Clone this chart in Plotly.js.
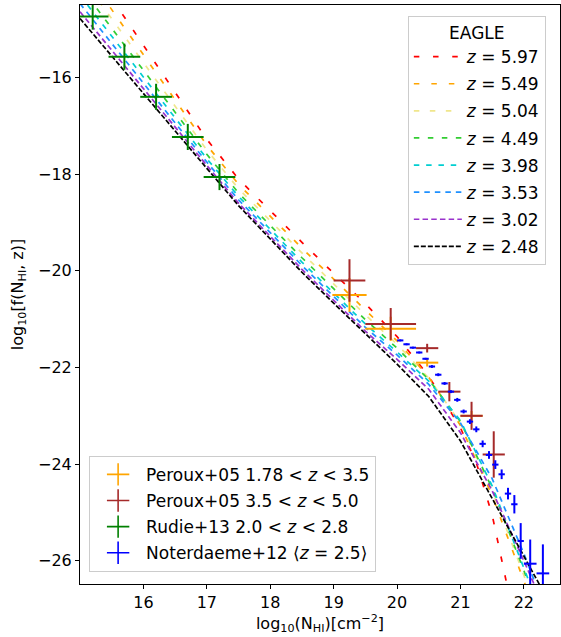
<!DOCTYPE html>
<html><head><meta charset="utf-8">
<script src="https://cdn.plot.ly/plotly-3.0.1.min.js"></script>
<style>html,body{margin:0;padding:0;background:#fff}#chart{width:561px;height:637px}</style>
</head><body><div id="chart"></div>
<script>
// ---- EAGLE simulation curves (log10 N_HI grid and log10 f) ----
const gridX = [15.0,15.5,16.0,16.5,17.0,17.5,18.0,18.5,19.0,19.5,20.0,20.5,21.0,21.5,22.0,22.25];
const redX  = [15.5,16.0,16.5,17.0,17.5,18.0,18.5,19.0,19.5,20.0,20.5,21.0,21.25,21.5,21.75];
const z597 = [-14.36,-15.34,-16.32,-17.28,-18.10,-18.76,-19.41,-20.05,-20.68,-21.36,-22.18,-23.25,-23.97,-25.05,-26.6];
const z549 = [-13.66,-14.60,-15.54,-16.48,-17.40,-18.21,-18.88,-19.53,-20.17,-20.81,-21.45,-22.20,-23.20,-24.65,-26.40,-27.30];
const z504 = [-13.88,-14.79,-15.70,-16.60,-17.50,-18.30,-18.97,-19.63,-20.27,-20.91,-21.52,-22.22,-23.15,-24.55,-26.30,-27.20];
const z449 = [-14.11,-14.98,-15.85,-16.73,-17.59,-18.39,-19.06,-19.73,-20.37,-21.01,-21.60,-22.25,-23.12,-24.50,-26.20,-27.10];
const z398 = [-14.30,-15.15,-15.99,-16.84,-17.68,-18.46,-19.14,-19.82,-20.46,-21.10,-21.68,-22.28,-23.10,-24.45,-26.15,-27.00];
const z353 = [-14.47,-15.30,-16.11,-16.94,-17.75,-18.53,-19.21,-19.89,-20.53,-21.17,-21.74,-22.35,-23.15,-24.30,-25.85,-26.70];
const z302 = [-14.64,-15.44,-16.23,-17.03,-17.82,-18.60,-19.28,-19.97,-20.61,-21.25,-21.83,-22.45,-23.35,-24.55,-26.00,-26.75];
const z248 = [-14.78,-15.56,-16.33,-17.11,-17.88,-18.65,-19.34,-20.03,-20.67,-21.31,-21.93,-22.60,-23.52,-24.71,-25.90,-26.50];
const eagleLabels = ['5.97','5.49','5.04','4.49','3.98','3.53','3.02','2.48'];

// ---- Observations ----
const perLowX = [19.25,19.9,20.475,21.175];
const perLowY = [-20.5,-21.2,-21.9,-23.0];
const perLowXerr = [0.27,0.4,0.175,0.175];
const perLowYerr = [0.35,0.25,0.08,0.1];

const perHighX = [19.25,19.9,20.475,20.825,21.175,21.525];
const perHighY = [-20.2,-21.1,-21.6,-22.5,-23.0,-23.8];
const perHighXerr = [0.25,0.4,0.175,0.175,0.175,0.175];
const perHighYerr = [0.44,0.33,0.09,0.2,0.29,0.48];

const rudieX = [15.2,15.7,16.2,16.7,17.2];
const rudieY = [-14.74,-15.57,-16.40,-17.23,-18.06];
const rudieXerr = [0.25,0.25,0.25,0.25,0.25];
const rudieYerr = [0.27,0.27,0.27,0.27,0.27];

const notX = [20.05,20.15,20.25,20.35,20.45,20.55,20.65,20.75,20.85,20.95,21.05,21.15,21.25,21.35,21.45,21.55,21.65,21.75,21.85,21.95,22.1,22.3];
const notY = [-21.44,-21.52,-21.59,-21.69,-21.82,-21.98,-22.15,-22.33,-22.50,-22.67,-22.91,-23.12,-23.28,-23.58,-23.81,-24.01,-24.21,-24.61,-24.83,-25.59,-26.06,-26.26];
const notXerr = [0.05,0.05,0.05,0.05,0.05,0.05,0.05,0.05,0.05,0.05,0.05,0.05,0.05,0.05,0.05,0.05,0.05,0.05,0.05,0.05,0.1,0.1];
const notYerr = [0.02,0.02,0.02,0.02,0.02,0.03,0.03,0.03,0.03,0.04,0.04,0.05,0.06,0.07,0.08,0.09,0.1,0.12,0.19,0.37,0.5,0.6];

const obsLabels = ['Peroux+05 1.78 &lt; <i>z</i> &lt; 3.5','Peroux+05 3.5 &lt; <i>z</i> &lt; 5.0','Rudie+13 2.0 &lt; <i>z</i> &lt; 2.8','Noterdaeme+12 ⟨<i>z</i> = 2.5⟩'];

const xTicks = [16,17,18,19,20,21,22];
const yTicks = [-26,-24,-22,-20,-18,-16];

const eagleColors = ['#ff0000','#ffa500','#f0e68c','#32cd32','#00ced1','#1e90ff','#9932cc','#000000'];
const eagleDash = ['5.5px,13.7px','5.5px,12px','5.5px,10.5px','5.5px,8.5px','5.5px,6.8px','5.5px,5px','5.5px,3.2px','5px,2px'];
const eagleY = [z597,z549,z504,z449,z398,z353,z302,z248];

const traces = [];
eagleY.forEach((ys,i)=>{
  traces.push({
    x: i===0 ? redX : gridX, y: ys, mode:'lines', type:'scatter',
    line:{color:eagleColors[i], width:1.7, dash:eagleDash[i]},
    name:'<i>z</i> = '+eagleLabels[i], legendgroup:'e'+i, legend:'legend', hoverinfo:'skip'
  });
});

const obs = [
  {x:perLowX,y:perLowY,ex:perLowXerr,ey:perLowYerr,c:'#ffa500'},
  {x:perHighX,y:perHighY,ex:perHighXerr,ey:perHighYerr,c:'#a52a2a'},
  {x:rudieX,y:rudieY,ex:rudieXerr,ey:rudieYerr,c:'#008000'},
  {x:notX,y:notY,ex:notXerr,ey:notYerr,c:'#0000ff'}
];
obs.forEach((o,i)=>{
  traces.push({
    x:o.x, y:o.y, type:'scatter', mode:'markers', marker:{size:0, opacity:0, color:o.c},
    error_x:{type:'data', array:o.ex, color:o.c, thickness:2, width:0},
    error_y:{type:'data', array:o.ey, color:o.c, thickness:2, width:0},
    showlegend:false, hoverinfo:'skip'
  });
});
obs.forEach((o,i)=>{
  traces.push({
    x:[null], y:[null], type:'scatter', mode:'markers',
    marker:{symbol:'cross-thin', size:16, color:o.c, line:{color:o.c, width:1.6}},
    name:obsLabels[i], legend:'legend2', legendgroup:'o'+i, showlegend:true
  });
});

const axisCommon = {showline:true, mirror:true, linecolor:'black', linewidth:1, ticks:'outside', ticklen:4, tickwidth:1, tickcolor:'black', showgrid:false, zeroline:false, tickfont:{size:16, color:'black'}};

const layout = {
  width:561, height:637,
  margin:{l:80, r:1, t:5, b:53},
  paper_bgcolor:'white', plot_bgcolor:'white',
  font:{family:'DejaVu Sans', size:16, color:'black'},
  showlegend:true,
  xaxis:Object.assign({}, axisCommon, {range:[15.0,22.57], tickvals:xTicks,
    title:{text:'log<sub>10</sub>(N<sub>HI</sub>)[cm<sup>−2</sup>]', font:{size:16}, standoff:6}}),
  yaxis:Object.assign({}, axisCommon, {range:[-26.48,-14.5], tickvals:yTicks,
    title:{text:'log<sub>10</sub>[f(N<sub>HI</sub>, z)]', font:{size:16}, standoff:10}}),
  legend:{x:0.683, y:0.981, xanchor:'left', yanchor:'top', bgcolor:'rgba(255,255,255,0.8)',
    bordercolor:'#cccccc', borderwidth:1, font:{size:17}, tracegroupgap:2, traceorder:'grouped',
    itemwidth:48, title:{text:'EAGLE', side:'top center', font:{size:17}}},
  legend2:{x:0.019, y:0.021, xanchor:'left', yanchor:'bottom', bgcolor:'rgba(255,255,255,0.8)',
    bordercolor:'#cccccc', borderwidth:1, font:{size:17}, tracegroupgap:1, traceorder:'grouped',
    itemwidth:46}
};

Plotly.newPlot('chart', traces, layout, {displayModeBar:false, staticPlot:true});
</script>
</body></html>
